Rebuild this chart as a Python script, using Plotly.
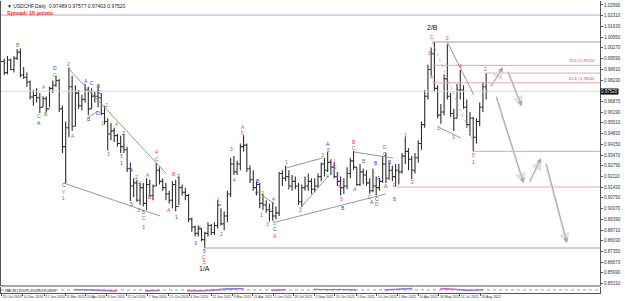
import plotly.graph_objects as go
import pandas as pd

# ---------------- data ----------------
header_text = "\u25BC USDCHF,Daily  0.97489 0.97577 0.97403 0.97520"
spread_text = "Spread: 15 points"

week_start = pd.date_range("2019-10-21", periods=151, freq="W-MON")
first_open = 0.9880
highs = [
    # 2019
    0.9955, 0.9960, 0.9975, 0.9960, 0.9975, 1.0020, 1.0023, 0.9905, 0.9870, 0.9820, 0.9760,
    # 2020
    0.9770, 0.9740, 0.9720, 0.9720, 0.9780, 0.9820, 0.9850, 0.9830, 0.9660, 0.9560, 0.9902, 0.9850, 0.9790,
    0.9760, 0.9730, 0.9800, 0.9780, 0.9770, 0.9750, 0.9790, 0.9740, 0.9660, 0.9580, 0.9550, 0.9520, 0.9480,
    0.9470, 0.9480, 0.9400, 0.9300, 0.9200, 0.9190, 0.9170, 0.9170, 0.9200, 0.9190, 0.9160, 0.9296, 0.9270,
    0.9200, 0.9170, 0.9120, 0.9180, 0.9190, 0.9210, 0.9160, 0.9140, 0.9100, 0.8950, 0.8900, 0.8900, 0.8880,
    # 2021
    0.8860, 0.8920, 0.8910, 0.8920, 0.9060, 0.9010, 0.8990, 0.9120, 0.9330, 0.9340, 0.9310, 0.9420, 0.9473,
    0.9420, 0.9280, 0.9250, 0.9180, 0.9170, 0.9100, 0.9060, 0.9040, 0.9050, 0.9020, 0.9240, 0.9250, 0.9280,
    0.9250, 0.9220, 0.9210, 0.9170, 0.9160, 0.9210, 0.9230, 0.9200, 0.9200, 0.9230, 0.9300, 0.9330, 0.9368,
    0.9320, 0.9300, 0.9240, 0.9210, 0.9200, 0.9270, 0.9330, 0.9373, 0.9270, 0.9290, 0.9260, 0.9250, 0.9200,
    # 2022
    0.9260, 0.9210, 0.9200, 0.9340, 0.9360, 0.9300, 0.9280, 0.9290, 0.9290, 0.9360, 0.9460, 0.9390, 0.9340,
    0.9360, 0.9440, 0.9560, 0.9760, 0.9920, 1.0030, 1.0064, 0.9790, 0.9670, 0.9860, 1.0050, 0.9740, 0.9640,
    0.9800, 0.9886, 0.9790, 0.9700, 0.9620, 0.9590, 0.9580, 0.9680, 0.9810, 0.9867,
]
lows = [
    0.9860, 0.9855, 0.9860, 0.9885, 0.9870, 0.9950, 0.9840, 0.9830, 0.9780, 0.9700, 0.9660,
    0.9680, 0.9613, 0.9650, 0.9620, 0.9650, 0.9740, 0.9780, 0.9620, 0.9360, 0.9169, 0.9460, 0.9500, 0.9530,
    0.9640, 0.9630, 0.9680, 0.9600, 0.9640, 0.9680, 0.9650, 0.9600, 0.9540, 0.9376, 0.9440, 0.9430, 0.9400,
    0.9360, 0.9360, 0.9240, 0.9056, 0.9080, 0.9050, 0.9030, 0.9020, 0.8998, 0.9080, 0.9060, 0.9150, 0.9160,
    0.9120, 0.9060, 0.9040, 0.9010, 0.8990, 0.9030, 0.9090, 0.9060, 0.8920, 0.8860, 0.8830, 0.8830, 0.8800,
    0.8757, 0.8830, 0.8840, 0.8840, 0.8880, 0.8900, 0.8870, 0.8920, 0.9080, 0.9220, 0.9220, 0.9250, 0.9370,
    0.9240, 0.9170, 0.9120, 0.9090, 0.9010, 0.9000, 0.8980, 0.8925, 0.8930, 0.8940, 0.8960, 0.9150, 0.9180,
    0.9130, 0.9120, 0.9130, 0.9030, 0.9018, 0.9120, 0.9120, 0.9100, 0.9110, 0.9140, 0.9180, 0.9210, 0.9240,
    0.9220, 0.9200, 0.9150, 0.9090, 0.9100, 0.9130, 0.9200, 0.9250, 0.9150, 0.9150, 0.9160, 0.9150, 0.9100,
    0.9110, 0.9090, 0.9120, 0.9170, 0.9170, 0.9190, 0.9180, 0.9150, 0.9160, 0.9230, 0.9290, 0.9250, 0.9195,
    0.9230, 0.9300, 0.9380, 0.9520, 0.9700, 0.9850, 0.9750, 0.9580, 0.9545, 0.9600, 0.9700, 0.9590, 0.9500,
    0.9580, 0.9700, 0.9640, 0.9520, 0.9470, 0.9370, 0.9420, 0.9530, 0.9620, 0.9700,
]
closes = [
    0.9940, 0.9870, 0.9950, 0.9890, 0.9960, 1.0000, 0.9855, 0.9840, 0.9810, 0.9715, 0.9725,
    0.9710, 0.9650, 0.9705, 0.9640, 0.9770, 0.9790, 0.9820, 0.9640, 0.9400, 0.9520, 0.9780, 0.9530, 0.9740,
    0.9660, 0.9700, 0.9760, 0.9640, 0.9720, 0.9720, 0.9710, 0.9610, 0.9560, 0.9480, 0.9500, 0.9470, 0.9420,
    0.9400, 0.9380, 0.9260, 0.9150, 0.9170, 0.9060, 0.9140, 0.9040, 0.9160, 0.9090, 0.9150, 0.9250, 0.9180,
    0.9140, 0.9100, 0.9060, 0.9160, 0.9020, 0.9140, 0.9110, 0.9090, 0.8940, 0.8890, 0.8850, 0.8880, 0.8810,
    0.8850, 0.8900, 0.8855, 0.8900, 0.9030, 0.8910, 0.8960, 0.9100, 0.9290, 0.9240, 0.9290, 0.9400, 0.9410,
    0.9260, 0.9190, 0.9140, 0.9160, 0.9040, 0.9030, 0.9000, 0.8990, 0.8960, 0.8980, 0.9230, 0.9200, 0.9210,
    0.9150, 0.9180, 0.9150, 0.9050, 0.9140, 0.9150, 0.9180, 0.9130, 0.9150, 0.9210, 0.9290, 0.9250, 0.9300,
    0.9270, 0.9210, 0.9180, 0.9140, 0.9150, 0.9230, 0.9310, 0.9270, 0.9160, 0.9240, 0.9220, 0.9170, 0.9120,
    0.9150, 0.9140, 0.9180, 0.9290, 0.9200, 0.9250, 0.9210, 0.9250, 0.9240, 0.9340, 0.9370, 0.9320, 0.9250,
    0.9330, 0.9420, 0.9540, 0.9720, 0.9890, 0.9990, 0.9770, 0.9600, 0.9620, 0.9830, 0.9720, 0.9610, 0.9580,
    0.9760, 0.9760, 0.9650, 0.9540, 0.9580, 0.9460, 0.9560, 0.9650, 0.9780, 0.9752,
]

date_tick_vals = ["2019-10-25", "2019-12-10", "2020-01-27", "2020-03-11", "2020-04-24", "2020-06-09",
                  "2020-07-22", "2020-09-07", "2020-10-21", "2020-12-04", "2021-01-21", "2021-03-09",
                  "2021-04-21", "2021-06-04", "2021-07-19", "2021-09-02", "2021-10-15", "2021-12-01",
                  "2022-01-14", "2022-03-01", "2022-04-14", "2022-05-30", "2022-07-13", "2022-08-26"]
date_tick_text = ["25 Oct 2019", "10 Dec 2019", "27 Jan 2020", "11 Mar 2020", "24 Apr 2020", "9 Jun 2020",
                  "22 Jul 2020", "7 Sep 2020", "21 Oct 2020", "4 Dec 2020", "21 Jan 2021", "9 Mar 2021",
                  "21 Apr 2021", "4 Jun 2021", "19 Jul 2021", "2 Sep 2021", "15 Oct 2021", "1 Dec 2021",
                  "14 Jan 2022", "1 Mar 2022", "14 Apr 2022", "30 May 2022", "13 Jul 2022", "26 Aug 2022"]
price_tick_vals = [1.0299, 1.0231, 1.0163, 1.0095, 1.0027, 0.9959, 0.9891, 0.9823, 0.9687, 0.9619,
                   0.9551, 0.9483, 0.9415, 0.9347, 0.9279, 0.9211, 0.9143, 0.9075, 0.9007, 0.8939,
                   0.8871, 0.8803, 0.8735, 0.8667, 0.8599, 0.8531]
current_price = 0.97520

# Elliott wave labels: (text, date, price)
red_labels = [
    ("2", "2020-03-19", 0.9925), ("Y", "2020-03-09", 0.9115), ("1", "2020-03-09", 0.9075),
    ("A", "2020-03-27", 0.9468), ("B", "2020-05-22", 0.9787),
    ("C", "2020-08-28", 0.8947), ("3", "2020-08-28", 0.8890),
    ("A", "2020-09-08", 0.9220), ("B", "2020-09-10", 0.9081),
    ("4", "2020-09-25", 0.9367), ("C", "2020-09-25", 0.9322),
    ("A", "2020-10-22", 0.8998), ("B", "2020-11-02", 0.9227),
    ("C", "2021-01-06", 0.8702), ("5", "2021-01-06", 0.8667),
    ("1", "2021-02-05", 0.9062), ("2", "2021-02-12", 0.8846), ("3", "2021-03-05", 0.9385),
    ("4", "2021-03-12", 0.9188), ("A", "2021-03-31", 0.9527), ("5", "2021-03-31", 0.9484),
    ("A", "2021-06-08", 0.8836), ("B", "2021-11-26", 0.9432), ("C", "2021-11-26", 0.9390),
    ("D", "2022-01-14", 0.9036), ("D", "2022-02-01", 0.9397),
    ("E", "2022-02-23", 0.9157), ("B", "2022-02-23", 0.9068),
    ("1", "2022-03-18", 0.9474), ("2", "2022-04-01", 0.9176), ("3", "2022-05-09", 0.9994),
    ("4", "2022-05-13", 0.9842), ("C", "2022-05-16", 1.0098), ("1", "2022-05-27", 0.9518),
    ("2", "2022-06-16", 1.0090), ("3", "2022-06-29", 0.9461), ("4", "2022-07-15", 0.9912),
    ("5", "2022-08-12", 0.9349), ("1", "2022-08-12", 0.9303), ("2", "2022-09-07", 0.9895),
]
blue_labels = [
    ("A", "2020-01-14", 0.9548), ("D", "2020-02-18", 0.9897), ("C", "2020-03-09", 0.9157),
    ("A", "2020-04-24", 0.9817), ("C", "2020-05-08", 0.9804), ("B", "2020-05-01", 0.9576),
    ("D", "2020-05-21", 0.9614), ("E", "2020-05-22", 0.9744),
    ("1", "2020-07-10", 0.9297), ("2", "2020-07-16", 0.9487), ("4", "2020-07-31", 0.9252),
    ("5", "2020-07-31", 0.9036), ("5", "2020-08-28", 0.8985),
    ("1", "2020-11-09", 0.8954), ("2", "2020-11-12", 0.9214),
    ("3", "2020-12-17", 0.8789), ("4", "2020-12-28", 0.8884), ("5", "2021-01-06", 0.8738),
    ("A", "2021-04-30", 0.9112), ("B", "2021-05-04", 0.9182), ("C", "2021-06-08", 0.8876),
    ("A", "2021-10-01", 0.9420), ("B", "2021-11-02", 0.9011),
    ("A", "2022-01-04", 0.9049), ("B", "2022-01-12", 0.9296), ("A", "2022-01-19", 0.9201),
    ("C", "2022-01-17", 0.9068), ("C", "2022-02-01", 0.9355), ("A", "2022-02-03", 0.9150),
    ("B", "2022-02-14", 0.9303),
]
green_labels = [
    ("B", "2019-11-29", 1.0045), ("C", "2020-01-14", 0.9592), ("A", "2020-01-27", 0.9779),
    ("B", "2020-01-30", 0.9607), ("C", "2020-02-18", 0.9855),
    ("1", "2020-06-01", 0.9550), ("2", "2020-06-09", 0.9664), ("3", "2020-06-12", 0.9353),
    ("4", "2020-06-30", 0.9544), ("5", "2020-07-10", 0.9340),
    ("2", "2020-08-13", 0.9207), ("3", "2020-08-17", 0.8998), ("4", "2020-08-19", 0.9169),
    ("1", "2021-05-10", 0.8966), ("2", "2021-05-13", 0.9106), ("3", "2021-05-24", 0.8909),
    ("4", "2021-06-04", 0.9068), ("5", "2021-06-08", 0.8916),
    ("1", "2021-07-02", 0.9303), ("2", "2021-08-03", 0.8998), ("3", "2021-09-20", 0.9347),
    ("4", "2021-09-30", 0.9214), ("5", "2021-10-01", 0.9379),
    ("A", "2021-11-30", 0.9131), ("B", "2021-12-17", 0.9309), ("C", "2021-12-31", 0.9081),
]
magenta_labels = [
    ("1", "2021-10-14", 0.9310), ("2", "2021-10-18", 0.9270), ("3", "2021-10-21", 0.9220),
    ("4", "2021-10-27", 0.9150), ("5", "2021-11-01", 0.9068),
]
black_labels = [("1/A", "2021-01-06", 0.8628), ("2/B", "2022-05-16", 1.0158)]

# Horizontal levels: (price, start date or None for full width, colour key)
levels = [
    (1.0235, None, "purple"), (1.0064, "2022-05-16", "gray"),
    (0.9916, "2022-05-16", "red"), (0.9867, "2022-09-07", "red"), (0.9805, "2022-05-16", "red"),
    (0.9370, "2022-08-11", "red"), (0.9144, "2022-02-24", "red"), (0.8757, "2021-01-06", "gray"),
]
fib_labels = [("78.6 | 0.99156", 0.9916), ("61.8 | 0.98046", 0.9805)]

# Trend lines: (date0, price0, date1, price1)
trend_lines = [
    ("2020-03-19", 0.9893, "2020-10-16", 0.9227), ("2020-03-09", 0.9169, "2020-10-02", 0.8960),
    ("2021-07-02", 0.9265, "2021-09-20", 0.9328), ("2021-08-03", 0.9011, "2021-10-01", 0.9214),
    ("2021-06-10", 0.8922, "2022-02-03", 0.9100), ("2021-11-26", 0.9366, "2022-02-18", 0.9328),
    ("2022-06-16", 1.0064, "2022-08-12", 0.9728), ("2022-05-27", 0.9525, "2022-07-15", 0.9455),
    ("2021-05-13", 0.9087, "2021-06-08", 0.9036), ("2020-05-01", 0.9590, "2020-05-21", 0.9625),
]
red_dotted_line = ("2022-05-16", 1.0064, "2022-08-10", 0.9442)

# Projected path arrows: (from date, from price, to date, to price)
projection = [
    ("2022-09-16", 0.9775, "2022-10-14", 0.9905),
    ("2022-10-25", 0.9886, "2022-11-24", 0.9658),
    ("2022-09-29", 0.9728, "2022-11-29", 0.9169),
    ("2022-12-09", 0.9169, "2023-01-05", 0.9328),
    ("2023-01-16", 0.9303, "2023-03-02", 0.8789),
]

# Sub-window oscillator (monthly readings)
osc_dates = pd.date_range("2019-11-01", periods=35, freq="MS")
osc_main = [0.002, -0.002, -0.006, -0.002, -0.004, 0.003, 0.001, -0.004, -0.007, -0.009, -0.004, -0.002,
            -0.002, -0.006, -0.005, 0.002, 0.008, 0.006, -0.004, -0.002, 0.003, 0.000, 0.004, 0.001,
            0.003, -0.001, -0.002, 0.001, 0.004, 0.009, 0.014, 0.005, 0.003, -0.004, 0.002]
osc_signal = [0.003, 0.001, -0.003, -0.004, -0.003, -0.001, 0.002, -0.001, -0.004, -0.007, -0.007, -0.004,
              -0.002, -0.003, -0.005, -0.002, 0.004, 0.007, 0.002, -0.003, 0.000, 0.002, 0.002, 0.002,
              0.002, 0.001, -0.001, -0.001, 0.002, 0.006, 0.011, 0.009, 0.004, 0.000, -0.001]
osc_title = "MACD(12,26,9) 0.00263 0.00481"

# ---------------- styles ----------------
COL = {"red": "#e8413c", "blue": "#3c3cdc", "green": "#2e9e2e", "magenta": "#ff33ff", "black": "#111111"}
LEVEL_COL = {"purple": "#c9a0d6", "gray": "#a0a0a0", "red": "#e9a5a5"}
FONT = "Liberation Sans"
X_START, X_END = "2019-10-24", "2023-05-12"
Y_MAIN = [0.85159, 1.03243]

n = min(len(week_start), len(highs), len(lows), len(closes))
bar_dates = (week_start[:n] + pd.Timedelta(days=2))
opens = [first_open] + closes[:n - 1]

fig = go.Figure()
fig.add_trace(go.Ohlc(x=bar_dates, open=opens, high=highs[:n], low=lows[:n], close=closes[:n],
                      increasing_line_color="#2e2e2e", decreasing_line_color="#2e2e2e",
                      line_width=1.1, tickwidth=0.5, xaxis="x", yaxis="y", hoverinfo="skip"))
fig.add_trace(go.Scatter(x=osc_dates, y=osc_main, mode="lines", line=dict(color="#4a5cff", width=0.8),
                         xaxis="x", yaxis="y2", hoverinfo="skip"))
fig.add_trace(go.Scatter(x=osc_dates, y=osc_signal, mode="lines", line=dict(color="#e040c0", width=0.8),
                         xaxis="x", yaxis="y2", hoverinfo="skip"))

shapes = []
for price, start, ck in levels:
    shapes.append(dict(type="line", xref="x", yref="y", x0=start or X_START, x1=X_END, y0=price, y1=price,
                       line=dict(color=LEVEL_COL[ck], width=1)))
shapes.append(dict(type="line", xref="x", yref="y", x0=X_START, x1=X_END, y0=current_price, y1=current_price,
                   line=dict(color="#d8d8d8", width=1)))
for d0, p0, d1, p1 in trend_lines:
    shapes.append(dict(type="line", xref="x", yref="y", x0=d0, y0=p0, x1=d1, y1=p1,
                       line=dict(color="#8c8c8c", width=0.9)))
d0, p0, d1, p1 = red_dotted_line
shapes.append(dict(type="line", xref="x", yref="y", x0=d0, y0=p0, x1=d1, y1=p1,
                   line=dict(color="#e8a0a0", width=0.9, dash="dot")))
shapes.append(dict(type="line", xref="x", yref="y2", x0=X_START, x1=X_END, y0=0, y1=0,
                   line=dict(color="#888888", width=0.8, dash="dot")))
shapes.append(dict(type="line", xref="paper", yref="paper", x0=0, x1=1, y0=0.024, y1=0.024,
                   line=dict(color="#555555", width=1.2)))

ann = []
for group, ck in [(red_labels, "red"), (blue_labels, "blue"), (green_labels, "green"),
                  (magenta_labels, "magenta")]:
    for t, d, p in group:
        ann.append(dict(x=d, y=p, xref="x", yref="y", text=t, showarrow=False,
                        font=dict(family=FONT, size=5, color=COL[ck])))
for t, d, p in black_labels:
    ann.append(dict(x=d, y=p, xref="x", yref="y", text=t, showarrow=False,
                    font=dict(family=FONT, size=7, color=COL["black"])))
for t, p in fib_labels:
    ann.append(dict(x=0.995, y=p, xref="paper", yref="y", text=t, showarrow=False, xanchor="right",
                    yanchor="bottom", font=dict(family=FONT, size=4, color="#d05050")))
for fd, fp, td, tp in projection:
    for off, colr, w in [(0.0006, "#e2e2e2", 2.2), (0.0, "#a8a8a8", 1.0)]:
        ann.append(dict(x=td, y=tp - off, ax=fd, ay=fp - off, xref="x", yref="y", axref="x", ayref="y",
                        text="", showarrow=True, arrowhead=2, arrowsize=1.0, arrowwidth=w,
                        arrowcolor=colr))
ann.append(dict(x=1.0, y=current_price, xref="paper", yref="y", text=f"{current_price:.5f}",
                showarrow=False, xanchor="left", bgcolor="#000000", borderpad=0,
                font=dict(family=FONT, size=4.5, color="#ffffff")))
ann.append(dict(x=0.006, y=0.999, xref="paper", yref="paper", text=header_text, showarrow=False,
                xanchor="left", yanchor="top", font=dict(family=FONT, size=5, color="#222222")))
ann.append(dict(x=0.006, y=0.975, xref="paper", yref="paper", text="<b>" + spread_text + "</b>",
                showarrow=False, xanchor="left", yanchor="top", font=dict(family=FONT, size=5.5, color="#ff2020")))
ann.append(dict(x=0.004, y=0.022, xref="paper", yref="paper", text=osc_title, showarrow=False,
                xanchor="left", yanchor="top", font=dict(family=FONT, size=3.5, color="#333333")))

fig.update_layout(
    width=625, height=301, margin=dict(l=1, r=25, t=1, b=8),
    paper_bgcolor="white", plot_bgcolor="white", showlegend=False,
    shapes=shapes, annotations=ann,
    xaxis=dict(type="date", range=[X_START, X_END], rangebreaks=[dict(bounds=["sat", "mon"])],
               tickvals=date_tick_vals, ticktext=date_tick_text, ticklabelposition="outside right",
               tickangle=0, tickfont=dict(family=FONT, size=3.5, color="#333333"), ticks="outside", ticklen=2,
               tickcolor="#555555", showgrid=False, zeroline=False, anchor="y2",
               showline=True, linecolor="#555555", rangeslider=dict(visible=False)),
    yaxis=dict(domain=[0.024, 1], range=Y_MAIN, side="right", tickvals=price_tick_vals,
               ticktext=[f"{v:.5f}" for v in price_tick_vals], tickfont=dict(family=FONT, size=4.5, color="#333333"),
               ticks="outside", ticklen=2, tickcolor="#555555", showgrid=False, zeroline=False,
               showline=True, linecolor="#555555", mirror=True, anchor="x"),
    yaxis2=dict(domain=[0, 0.021], range=[-0.016, 0.016], side="right", showticklabels=False,
                showgrid=False, zeroline=False, showline=True, linecolor="#555555", mirror=True, anchor="x"),
)

fig.write_html("out.html")
